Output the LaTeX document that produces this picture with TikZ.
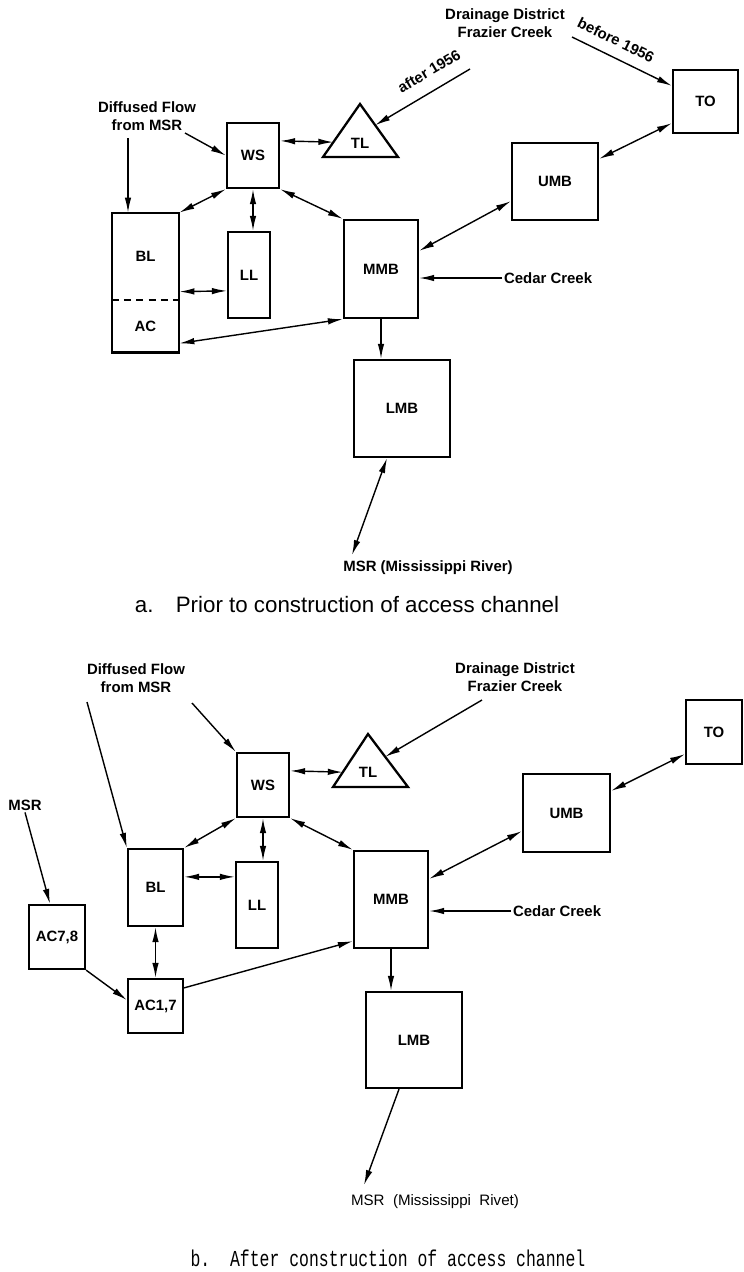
\documentclass[tikz,border=0pt]{standalone}
\usepackage{fontspec}
\usepackage{tikz}
\usetikzlibrary{
arrows.meta,
calc
}
\newfontfamily\hvfont{Liberation Sans}
\newfontfamily\ttcapfont[FakeStretch=0.72]{Liberation Mono}
\newcommand\lblsize{\hvfont\bfseries\fontsize{8.5}{10}\selectfont}
\tikzset{
wetbox/.style 2 args={draw, line width=1.3pt, inner sep=0pt, font=\lblsize,
  minimum width=#1*0.02cm, minimum height=#2*0.02cm},
wetbare/.style 2 args={inner sep=0pt, font=\lblsize,
  minimum width=#1*0.02cm, minimum height=#2*0.02cm},
wetline/.style={line width=1.3pt, line join=miter},
wettext/.style={align=center, font=\lblsize, inner sep=1pt},
oneway/.style={-{Latex[length=3mm, width=1.3mm]}, line width=0.8pt},
twoway/.style={{Latex[length=3mm, width=1.3mm]}-{Latex[length=3mm, width=1.3mm]}, line width=0.8pt}
}

\begin{document}
\begin{tikzpicture}[x=0.02cm, y=-0.02cm]
\useasboundingbox (0,0) rectangle (744,1272);

% a. prior to construction
\node[wettext] (dfa) at (147,116) {Diffused Flow\\from MSR};
\node[wettext] (dra) at (505,23) {Drainage District\\Frazier Creek};
\node[wetbox={65}{63}] (toa) at (705.5,101.5) {TO};
\node[wetbox={86}{77}] (umba) at (555,181.5) {UMB};
\node[wetbox={52}{65}] (wsa) at (253,155.5) {WS};
\node[wetbare={67}{87}] (bla) at (145.5,256.5) {BL};
\node[wetbare={67}{52}] (aca) at (145.5,326) {AC};
\draw[wetline] (bla.north west) rectangle (aca.south east);
\draw[line width=1pt, dash pattern=on 4pt off 3pt] (bla.south west) -- (bla.south east);
\node[wetbox={42}{86}] (lla) at (249,275) {LL};
\node[wetbox={74}{98}] (mmba) at (381,269) {MMB};
\node[wetbox={96}{97}] (lmba) at (402,408.5) {LMB};
\coordinate (tlaA) at (360,104);
\coordinate (tlaL) at (323,157);
\coordinate (tlaR) at (398,157);
\draw[wetline] (tlaA) -- (tlaR) -- (tlaL) -- cycle;
\node[wettext] (tla) at (360,143) {TL};
\node[wettext, anchor=west] (ceda) at (502,278) {Cedar Creek};
\node[wettext] (msra) at (428,568) {MSR (Mississippi River)};
\node[font=\hvfont\fontsize{12.7}{15}\selectfont] (capa) at (347,605)
  {a.\quad Prior to construction of access channel};
\node[wettext, rotate=-26] (befa) at (616,40) {before 1956};
\node[wettext, rotate=30.5] (afta) at (429,71) {after 1956};

\coordinate (dfa1) at (185,133);
\coordinate (dfa2) at (128,138);
\coordinate (bef) at (572,37);
\coordinate (aft) at (470,69);
\coordinate (msratip) at (352,555);

\draw[oneway] (dfa1) -- (wsa.west);
\draw[oneway] (dfa2) -- (dfa2 |- bla.north);
\draw[twoway] (wsa.south west) -- (bla.north east);
\draw[twoway] (wsa.south) -- (wsa.south |- lla.north);
\draw[twoway] ($(bla.north east)+(0,79)$) -- ($(lla.north west)+(0,60)$);
\draw[twoway] (wsa.south east) -- (mmba.north west);
\draw[twoway] ($(aca.south east)+(0,-9)$) -- (mmba.south west);
\draw[oneway] (mmba.south) -- (mmba.south |- lmba.north);
\draw[twoway] ($(lmba.south)+(-15,0)$) -- (msratip);
\draw[oneway] (ceda.west) -- (ceda.west -| mmba.east);
\draw[twoway] ($(umba.south west)+(0,-20)$) -- ($(mmba.north east)+(0,32)$);
\draw[twoway] ($(toa.south west)+(0,-11)$) -- ($(umba.north east)+(0,17)$);
\draw[oneway] (bef) -- ($(toa.north west)+(0,17)$);
\draw[oneway] (aft) -- ($(tlaR)!0.6!(tlaA)$);
\draw[twoway] ($(wsa.north east)+(0,19)$) -- ($(tlaL)!0.28!(tlaA)$);

% b. after construction
\node[wettext] (dfb) at (136,678) {Diffused Flow\\from MSR};
\node[wettext] (drb) at (515,677) {Drainage District\\Frazier Creek};
\node[wettext] (msrl) at (25,805) {MSR};
\node[wetbox={56}{64}] (tob) at (714,732) {TO};
\node[wetbox={87}{78}] (umbb) at (566.5,813) {UMB};
\node[wetbox={52}{64}] (wsb) at (263,785) {WS};
\node[wetbox={55}{77}] (blb) at (155.5,887.5) {BL};
\node[wetbox={42}{86}] (llb) at (257,905) {LL};
\node[wetbox={74}{97}] (mmbb) at (391,899.5) {MMB};
\node[wetbox={56}{64}] (ac78) at (57,937) {AC7,8};
\node[wetbox={55}{54}] (ac17) at (155.5,1006) {AC1,7};
\node[wetbox={96}{96}] (lmbb) at (414,1040) {LMB};
\coordinate (tlbA) at (368,734);
\coordinate (tlbL) at (333,787);
\coordinate (tlbR) at (408,787);
\draw[wetline] (tlbA) -- (tlbR) -- (tlbL) -- cycle;
\node[wettext] (tlb) at (368,772) {TL};
\node[wettext, anchor=west] (cedb) at (511,911) {Cedar Creek};
\node[font=\hvfont\fontsize{8.6}{10}\selectfont] (msrb) at (435,1202)
  {MSR\ \ (Mississippi\ \ Rivet)};
\node[font=\ttcapfont\fontsize{13}{15}\selectfont] (capb) at (388,1258)
  {b.\ \ After construction of access channel};

\coordinate (dfb1) at (87,702);
\coordinate (dfb2) at (192,703);
\coordinate (drb1) at (482,700);
\coordinate (msrbtip) at (364,1185);

\draw[oneway] (dfb1) -- (blb.north west);
\draw[oneway] (dfb2) -- (wsb.north west);
\draw[oneway] (drb1) -- ($(tlbR)!0.57!(tlbA)$);
\draw[twoway] ($(wsb.north east)+(0,19)$) -- ($(tlbL)!0.28!(tlbA)$);
\draw[twoway] ($(tob.south west)+(0,-11)$) -- ($(umbb.north east)+(0,18)$);
\draw[twoway] ($(umbb.south west)+(0,-22)$) -- ($(mmbb.north east)+(0,29)$);
\draw[oneway] (cedb.west) -- (cedb.west -| mmbb.east);
\draw[twoway] (wsb.south west) -- (blb.north east);
\draw[twoway] (wsb.south) -- (wsb.south |- llb.north);
\draw[twoway] ($(blb.north east)+(0,29)$) -- ($(llb.north west)+(0,16)$);
\draw[twoway] (wsb.south east) -- (mmbb.north west);
\draw[oneway] (msrl.south) -- ($(ac78.north)+(-7,0)$);
\draw[twoway] (blb.south) -- (ac17.north);
\draw[oneway] (ac78.south east) -- ($(ac17.west)+(0,-6)$);
\draw[oneway] ($(ac17.north east)+(0,10)$) -- ($(mmbb.south west)+(0,-8)$);
\draw[oneway] (mmbb.south) -- (mmbb.south |- lmbb.north);
\draw[oneway] ($(lmbb.south)+(-15,0)$) -- (msrbtip);
\end{tikzpicture}
\end{document}
